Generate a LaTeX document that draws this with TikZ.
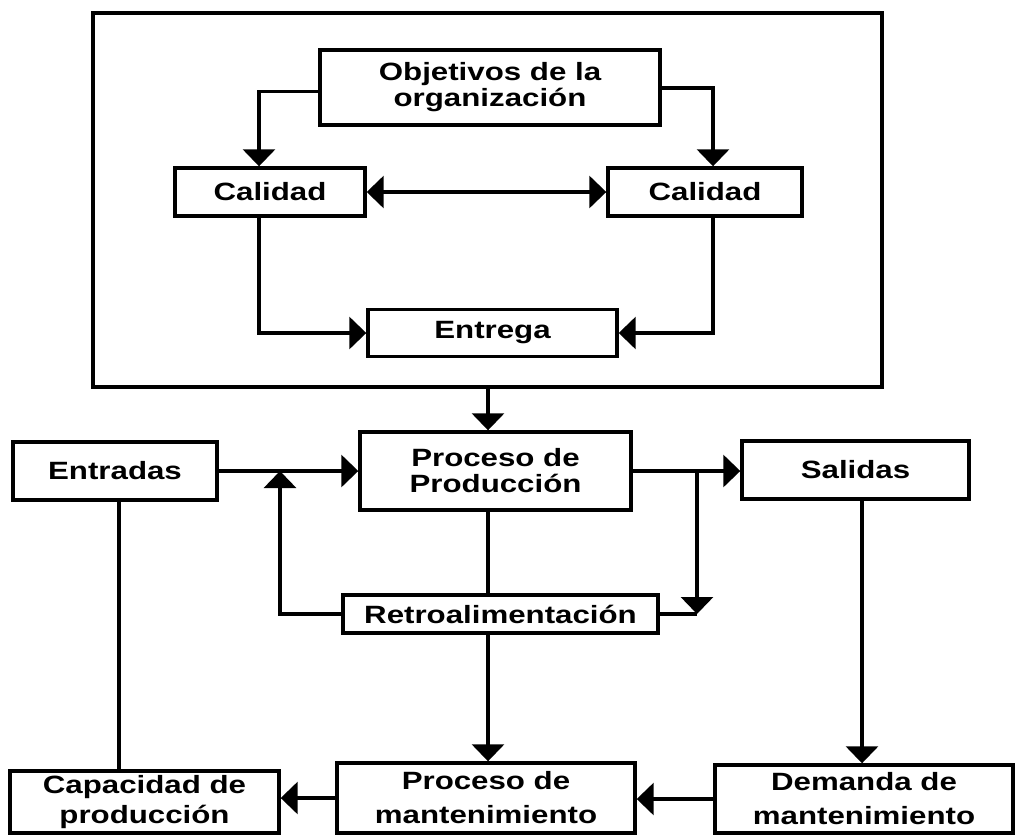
\documentclass[tikz,border=0pt]{standalone}
\usepackage{fontspec}
\setmainfont[FakeStretch=1.25]{Liberation Sans}
\usetikzlibrary{arrows.meta}

\begin{document}
\begin{tikzpicture}[x=1pt, y=-1pt,
  caja/.style={draw, line width=3.4pt, inner sep=0pt, align=center,
    font=\bfseries\fontsize{25}{26}\selectfont},
  marco/.style={draw, line width=4.4pt, inner sep=0pt},
  con/.style={line width=3.2pt},
  punta/.tip={Triangle[length=17pt, width=32pt]},
  flecha/.style={con, -punta},
  doble/.style={con, punta-punta}
]
\useasboundingbox (0,0) rectangle (1016,835);

% upper block: objectives of the organisation
\node[marco, minimum width=789pt, minimum height=374pt] (marco) at (487.5,200) {};
\node[caja, minimum width=340pt, minimum height=75pt] (obj) at (490,87.5) {Objetivos de la\\organización};
\node[caja, minimum width=190pt, minimum height=48pt] (cal1) at (270,192) {Calidad};
\node[caja, minimum width=194pt, minimum height=48pt] (cal2) at (705,192) {Calidad};
\node[caja, minimum width=249pt, minimum height=47pt] (ent) at (492.5,333) {Entrega};

% production system
\node[caja, minimum width=204pt, minimum height=58pt] (entradas) at (115,471) {Entradas};
\node[caja, minimum width=271pt, minimum height=78pt] (proc) at (495.5,471) {Proceso de\\Producción};
\node[caja, minimum width=227pt, minimum height=58pt] (sal) at (855.5,470) {Salidas};
\node[caja, minimum width=315pt, minimum height=38pt] (retro) at (500.5,614) {Retroalimentación};

% maintenance row
\node[caja, minimum width=269pt, minimum height=62pt] (cap) at (144.5,802) {Capacidad de\\[4pt]producción};
\node[caja, minimum width=298pt, minimum height=70pt] (pmant) at (486,798) {Proceso de\\[8pt]mantenimiento};
\node[caja, minimum width=298pt, minimum height=68pt] (dem) at (864,799) {Demanda de\\[8pt]mantenimiento};

% helper points
\coordinate (eje) at (488,0);
\coordinate (rama) at (697,471);
\coordinate (codo) at (rama |- retro.east);
\coordinate (retorno) at (280,471);

% connectors inside the frame
\draw[flecha] ([yshift=-4pt]obj.west) -| ([xshift=-11pt]cal1.north);
\draw[flecha] ([yshift=-0.5pt]obj.east) -| ([xshift=8pt]cal2.north);
\draw[doble] (cal1.east) -- (cal2.west);
\draw[flecha] ([xshift=-11pt]cal1.south) |- (ent.west);
\draw[flecha] ([xshift=8pt]cal2.south) |- (ent.east);

% frame to production
\draw[flecha] (eje |- marco.south) -- (eje |- proc.north);
\draw[flecha] (entradas.east) -- (proc.west);
\draw[flecha] (proc.east) -- (proc.east -| sal.west);
\draw[flecha] (rama) -- (codo);
\draw[con] (retro.east) -- (codo);
\draw[flecha] (retro.west) -| (retorno);
\draw[con] (eje |- proc.south) -- (eje |- retro.north);
\draw[flecha] (eje |- retro.south) -- (eje |- pmant.north);

% maintenance links
\draw[con] ([xshift=4pt]entradas.south) -- ([xshift=4pt]entradas.south |- cap.north);
\draw[flecha] ([xshift=6.5pt]sal.south) -- ([xshift=6.5pt]sal.south |- dem.north);
\draw[flecha] (dem.west) -- (dem.west -| pmant.east);
\draw[flecha] (pmant.west) -- (pmant.west -| cap.east);
\end{tikzpicture}
\end{document}
